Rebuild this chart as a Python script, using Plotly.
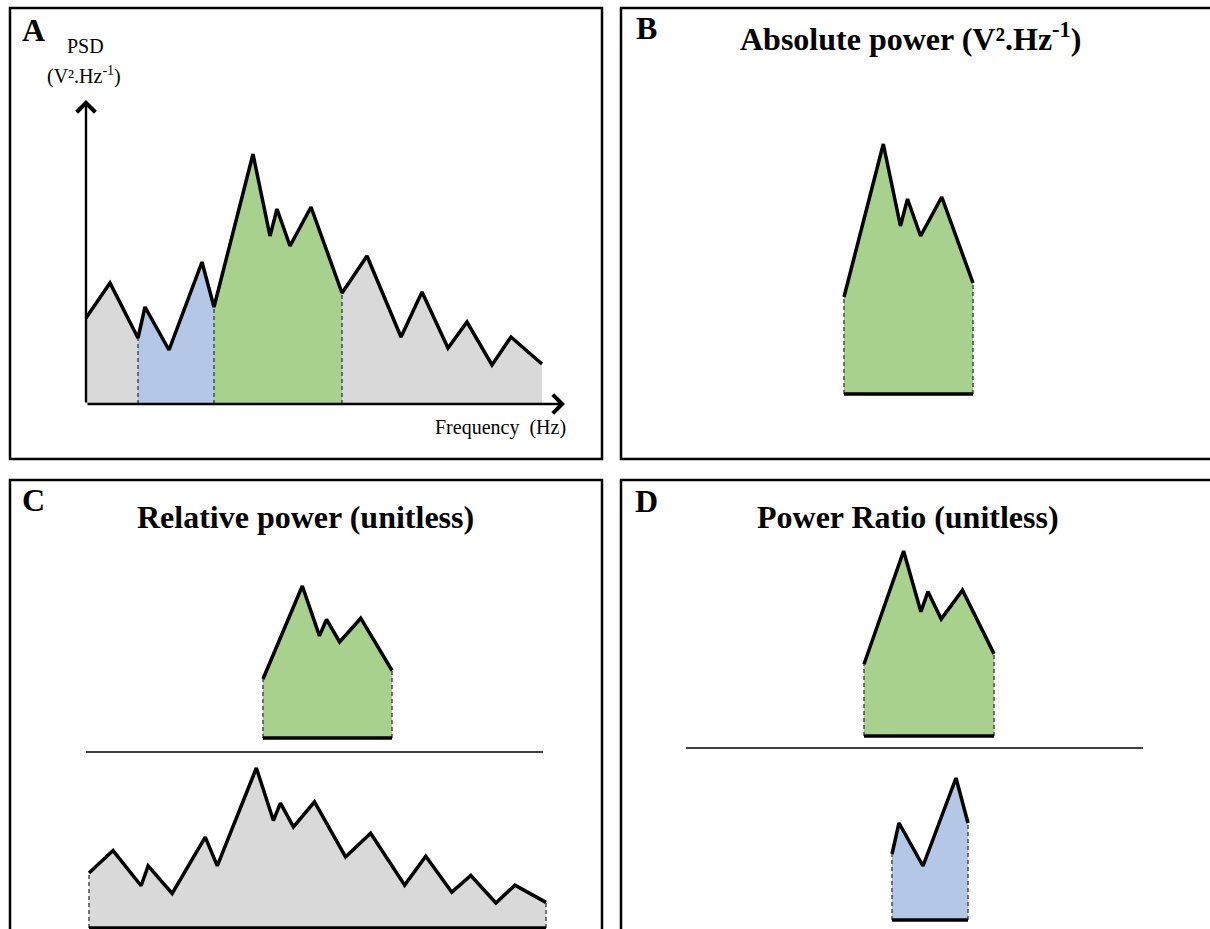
import plotly.graph_objects as go

W, H = 1210, 929
SERIF = "Liberation Serif"

# Power spectral density: vertex frequencies (Hz) and amplitudes (arbitrary units)
freq = [0.0, 2.4, 5.2, 5.9, 8.3, 11.6, 12.8, 16.7, 18.4, 19.1, 20.4,
        22.5, 25.6, 28.1, 31.5, 33.6, 36.2, 38.1, 40.6, 42.5, 45.6]
psd = [8.6, 12.1, 6.6, 9.7, 5.4, 14.2, 9.7, 25.0, 16.8, 19.5, 15.8,
       19.7, 11.1, 14.8, 6.7, 11.2, 5.6, 8.2, 3.9, 6.7, 4.0]

# Frequency bands highlighted in the spectrum
low_band = (5.2, 12.8)
mid_band = (12.8, 25.6)
full_band = (freq[0], freq[-1])

GREY = "#d9d9d9"
BLUE = "#b4c7e7"
GREEN = "#a9d18e"
EDGE = "#404040"

fig = go.Figure()


def ax_names(n):
    return ("x", "y") if n == 1 else (f"x{n}", f"y{n}")


def set_axes(n, x_span, y_span, px_x, px_y, pad=(10, 10, 10, 10)):
    """Place subplot n so that the data box x_span*y_span lands on the
    page-pixel box px_x=(left, right), px_y=(bottom, top)."""
    sx = (px_x[1] - px_x[0]) / (x_span[1] - x_span[0])
    sy = (px_y[0] - px_y[1]) / (y_span[1] - y_span[0])
    pl, pr, pb, pt = pad
    left, right = px_x[0] - pl, px_x[1] + pr
    bottom, top = min(px_y[0] + pb, H), px_y[1] - pt
    xr = [x_span[0] - (px_x[0] - left) / sx, x_span[1] + (right - px_x[1]) / sx]
    yr = [y_span[0] - (bottom - px_y[0]) / sy, y_span[1] + (px_y[1] - top) / sy]
    xn, yn = ax_names(n)
    key = "" if n == 1 else str(n)
    fig.update_layout(**{
        f"xaxis{key}": dict(domain=[left / W, right / W], range=xr, visible=False,
                            fixedrange=True, anchor=yn),
        f"yaxis{key}": dict(domain=[1 - bottom / H, 1 - top / H], range=yr,
                            visible=False, fixedrange=True, anchor=xn),
    })


def segment(band):
    lo, hi = band
    pts = [(f, p) for f, p in zip(freq, psd) if lo <= f <= hi]
    return [f for f, _ in pts], [p for _, p in pts]


def value_at(f):
    return psd[freq.index(f)]


def add_fill(n, band, color):
    xn, yn = ax_names(n)
    xs, ys = segment(band)
    fig.add_trace(go.Scatter(x=xs, y=ys, mode="lines", fill="tozeroy",
                             fillcolor=color, line=dict(width=0, color=color),
                             xaxis=xn, yaxis=yn, hoverinfo="skip", showlegend=False))


def add_edge(n, f):
    xn, yn = ax_names(n)
    fig.add_trace(go.Scatter(x=[f, f], y=[0, value_at(f)], mode="lines",
                             line=dict(width=1.4, color=EDGE, dash="4px,3px"),
                             xaxis=xn, yaxis=yn, hoverinfo="skip", showlegend=False))


def add_curve(n, band):
    xn, yn = ax_names(n)
    xs, ys = segment(band)
    fig.add_trace(go.Scatter(x=xs, y=ys, mode="lines",
                             line=dict(width=3.5, color="black"),
                             xaxis=xn, yaxis=yn, hoverinfo="skip", showlegend=False))


def add_base(n, band):
    xn, yn = ax_names(n)
    fig.add_trace(go.Scatter(x=list(band), y=[0, 0], mode="lines",
                             line=dict(width=3.5, color="black"),
                             xaxis=xn, yaxis=yn, hoverinfo="skip", showlegend=False))


def band_piece(n, band, color):
    add_fill(n, band, color)
    add_edge(n, band[0])
    add_edge(n, band[1])
    add_curve(n, band)
    add_base(n, band)


# ---- A: full spectrum with coloured bands ----
psd_top, f_top = 30.4, 47.9  # axis arrow extents
set_axes(1, full_band, (0, 25), (86, 542), (404, 154), pad=(10, 35, 10, 64))
add_fill(1, (freq[0], low_band[0]), GREY)
add_fill(1, low_band, BLUE)
add_fill(1, mid_band, GREEN)
add_fill(1, (mid_band[1], freq[-1]), GREY)
for f in (low_band[0], low_band[1], mid_band[1]):
    add_edge(1, f)
add_curve(1, full_band)

# ---- B: absolute power of the mid band ----
set_axes(2, mid_band, (0, 25), (844, 973), (394, 144))
band_piece(2, mid_band, GREEN)

# ---- C: relative power (band / whole spectrum) ----
set_axes(3, mid_band, (0, 25), (263, 392), (738, 586))
band_piece(3, mid_band, GREEN)
set_axes(4, full_band, (0, 25), (89, 546), (928, 768))
band_piece(4, full_band, GREY)

# ---- D: power ratio (mid band / low band) ----
set_axes(5, mid_band, (0, 25), (864, 994), (736, 551))
band_piece(5, mid_band, GREEN)
set_axes(6, low_band, (0, max(segment(low_band)[1])), (892, 968), (920, 778))
band_piece(6, low_band, BLUE)


def px(x):
    return x / W


def py(y):
    return 1 - y / H


# Axis arrows of panel A
for head in ((0, psd_top), (f_top, 0)):
    fig.add_annotation(x=head[0], y=head[1], ax=0, ay=0, xref="x", yref="y",
                       axref="x", ayref="y", text="", showarrow=True,
                       arrowhead=4, arrowsize=1.5, arrowwidth=2.4,
                       arrowcolor="black", standoff=0)

# Panel frames
frames = [(10, 602, 8, 459), (621, 1215, 8, 459), (10, 602, 480, 945), (621, 1215, 480, 945)]
shapes = []
for x0, x1, y0, y1 in frames:
    shapes.append(dict(type="rect", xref="paper", yref="paper",
                       x0=px(x0), x1=px(x1), y0=py(y1), y1=py(y0),
                       line=dict(color="black", width=2.5), fillcolor="rgba(0,0,0,0)"))
# Fraction bars
for x0, x1, y in ((86, 543, 752), (686, 1143, 748)):
    shapes.append(dict(type="line", xref="paper", yref="paper",
                       x0=px(x0), x1=px(x1), y0=py(y), y1=py(y),
                       line=dict(color="black", width=1.3)))
fig.update_layout(shapes=shapes)


def label(text, x, y, size, bold=False):
    fig.add_annotation(text=f"<b>{text}</b>" if bold else text,
                       x=px(x), y=py(y), xref="paper", yref="paper",
                       xanchor="center", yanchor="middle", showarrow=False,
                       font=dict(family=SERIF, size=size, color="black"))


label("A", 33, 30, 32, bold=True)
label("B", 646, 28, 32, bold=True)
label("C", 33, 500, 32, bold=True)
label("D", 647, 501, 32, bold=True)

label("PSD", 85, 46, 20)
label("(V².Hz<sup>-1</sup>)", 84, 75, 20)
label("Frequency\u00a0 (Hz)", 500, 427, 20)

label("Absolute power (V².Hz<sup>-1</sup>)", 910, 37, 32, bold=True)
label("Relative power (unitless)", 305, 517, 32, bold=True)
label("Power Ratio (unitless)", 908, 517, 32, bold=True)

fig.update_layout(width=W, height=H, autosize=False,
                  margin=dict(l=0, r=0, t=0, b=0),
                  paper_bgcolor="white", plot_bgcolor="rgba(0,0,0,0)",
                  showlegend=False)

fig.write_html("out.html", config={"displayModeBar": False})
